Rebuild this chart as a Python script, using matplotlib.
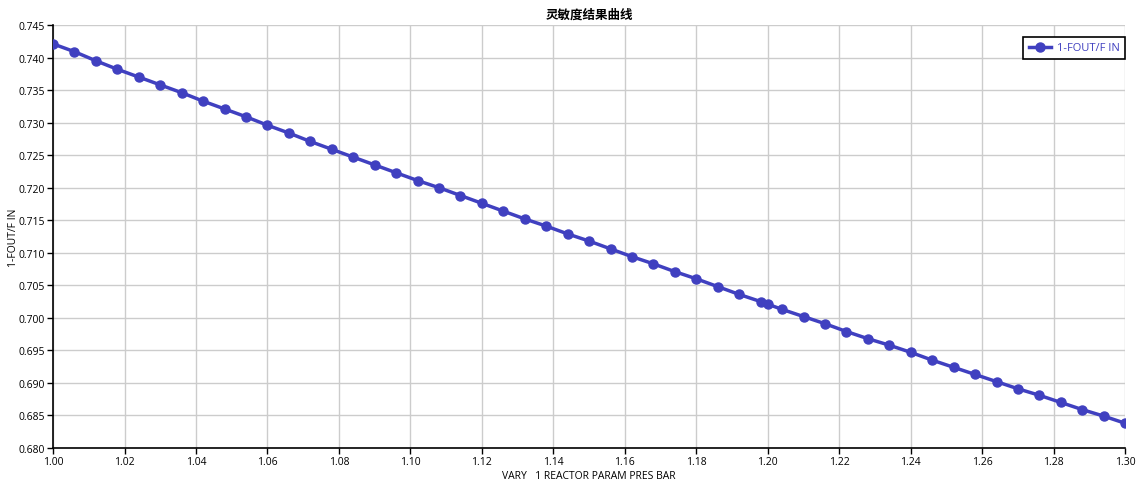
import matplotlib.pyplot as plt

plt.rcParams['font.family'] = ['Open Sans', 'Noto Sans CJK SC', 'DejaVu Sans']

# sensitivity result: reactor pressure (bar) vs 1-FOUT/F IN
pres = [1.000, 1.006, 1.012, 1.018, 1.024, 1.030, 1.036, 1.042, 1.048, 1.054,
        1.060, 1.066, 1.072, 1.078, 1.084, 1.090, 1.096, 1.102, 1.108, 1.114,
        1.120, 1.126, 1.132, 1.138, 1.144, 1.150, 1.156, 1.162, 1.168, 1.174,
        1.180, 1.186, 1.192, 1.198, 1.200, 1.204, 1.210, 1.216, 1.222, 1.228,
        1.234, 1.240, 1.246, 1.252, 1.258, 1.264, 1.270, 1.276, 1.282, 1.288,
        1.294, 1.300]
conv = [0.7421, 0.7409, 0.7395, 0.7382, 0.7370, 0.7358, 0.7346, 0.7333, 0.7321, 0.7309,
        0.7296, 0.7284, 0.7271, 0.7259, 0.7247, 0.7235, 0.7223, 0.7211, 0.7200, 0.7188,
        0.7176, 0.7164, 0.7152, 0.7141, 0.7129, 0.7118, 0.7106, 0.7094, 0.7083, 0.7071,
        0.7060, 0.7048, 0.7036, 0.7025, 0.7021, 0.7013, 0.7002, 0.6991, 0.6979, 0.6968,
        0.6958, 0.6947, 0.6935, 0.6924, 0.6913, 0.6902, 0.6891, 0.6881, 0.6870, 0.6859,
        0.6849, 0.6838]

xticks = [1.00 + 0.02 * i for i in range(16)]
yticks = [0.680 + 0.005 * i for i in range(14)]

color = '#4040c0'

fig = plt.figure(figsize=(11.43, 4.89), dpi=100)
ax = fig.add_axes([0.0464, 0.0818, 0.938, 0.865])

ax.plot(pres, conv, color=color, lw=2.5, marker='o', ms=6.5, label='1-FOUT/F IN', zorder=3)

ax.set_xlim(1.00, 1.30)
ax.set_ylim(0.680, 0.745)
ax.set_xticks(xticks)
ax.set_xticklabels([f'{v:.2f}' for v in xticks])
ax.set_yticks(yticks)
ax.set_yticklabels([f'{v:.3f}' for v in yticks])
ax.tick_params(labelsize=7.5, length=4, width=1, pad=2)

ax.grid(True, color='#cccccc', lw=1)
ax.set_axisbelow(True)
for s in ['top', 'right']:
    ax.spines[s].set_visible(False)
for s in ['left', 'bottom']:
    ax.spines[s].set_linewidth(1.2)

ax.set_title('灵敏度结果曲线', fontsize=9, fontweight='bold',
             family=['Noto Sans CJK SC', 'DejaVu Sans'], pad=5)
ax.set_xlabel('VARY   1 REACTOR PARAM PRES BAR', fontsize=7.5, labelpad=2)
ax.set_ylabel('1-FOUT/F IN', fontsize=7.5)
ax.yaxis.set_label_coords(-0.032, 0.5)

leg = ax.legend(loc='upper right', bbox_to_anchor=(1.0, 0.972), borderaxespad=0,
                fontsize=8, fancybox=False, framealpha=1, edgecolor='black',
                borderpad=0.5, handlelength=2.0, handletextpad=0.5)
leg.get_frame().set_linewidth(1.2)
for t in leg.get_texts():
    t.set_color(color)

fig.savefig('out.png', dpi=100)
